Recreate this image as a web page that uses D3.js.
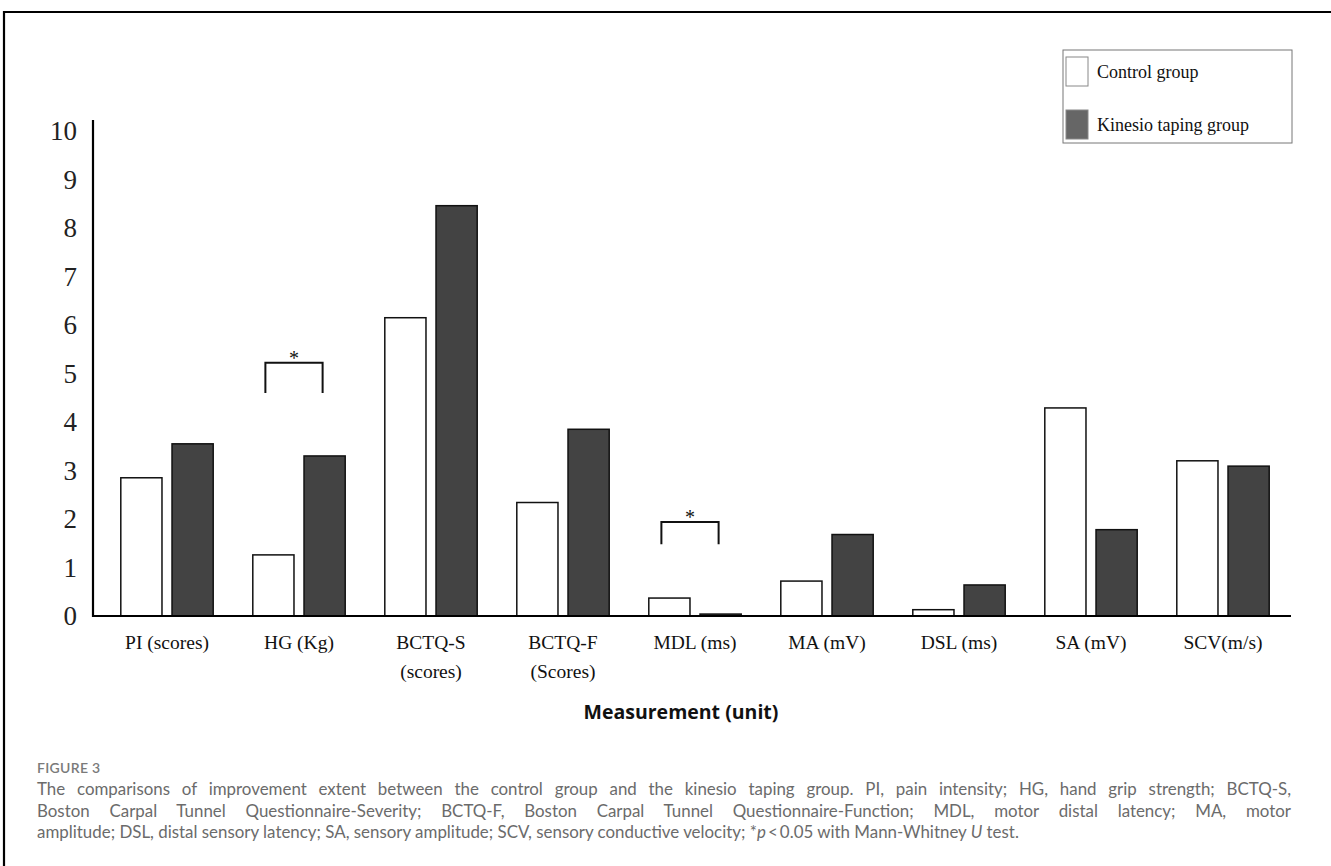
<!DOCTYPE html>
<html>
<head>
<meta charset="utf-8">
<script src="https://cdn.jsdelivr.net/npm/d3@7"></script>
<style>
  html, body { margin: 0; padding: 0; background: #fff; }
  #wrap { position: relative; width: 1331px; height: 866px; overflow: hidden; }
  svg { position: absolute; left: 0; top: 0; }
  #caption { position: absolute; left: 37px; top: 759px; width: 1254px; font-family: Lato, "Open Sans", sans-serif; color: #6b6b6b; }
  #caption .fig { font-size: 14px; letter-spacing: 0.3px; color: #7a7a7a; margin-bottom: 2px; font-weight: 600; }
  #caption .ln { font-size: 16.9px; line-height: 21.5px; white-space: nowrap; }
  #caption .just { text-align: justify; text-align-last: justify; white-space: normal; }
</style>
</head>
<body>
<div id="wrap">
  <svg id="chart" width="1331" height="866"></svg>
  <div id="caption"></div>
</div>
<script>
// ---- data ----
const categories = ["PI (scores)", "HG (Kg)", "BCTQ-S (scores)", "BCTQ-F (Scores)", "MDL (ms)", "MA (mV)", "DSL (ms)", "SA (mV)", "SCV(m/s)"];
const categoryLines = [["PI (scores)"], ["HG (Kg)"], ["BCTQ-S", "(scores)"], ["BCTQ-F", "(Scores)"], ["MDL (ms)"], ["MA (mV)"], ["DSL (ms)"], ["SA (mV)"], ["SCV(m/s)"]];
const seriesNames = ["Control group", "Kinesio taping group"];
const controlValues = [2.85, 1.26, 6.15, 2.34, 0.37, 0.72, 0.13, 4.29, 3.20];
const kinesioValues = [3.55, 3.30, 8.46, 3.85, 0.04, 1.68, 0.64, 1.78, 3.09];
const yTicks = [0, 1, 2, 3, 4, 5, 6, 7, 8, 9, 10];
const sigCategories = ["HG (Kg)", "MDL (ms)"];
const sigTop = [5.22, 1.94];
const sigBottom = [4.6, 1.48];
const xTitle = "Measurement (unit)";
const figLabel = "FIGURE 3";
const captionLines = [
  "The comparisons of improvement extent between the control group and the kinesio taping group. PI, pain intensity; HG, hand grip strength; BCTQ-S,",
  "Boston Carpal Tunnel Questionnaire-Severity; BCTQ-F, Boston Carpal Tunnel Questionnaire-Function; MDL, motor distal latency; MA, motor",
  "amplitude; DSL, distal sensory latency; SA, sensory amplitude; SCV, sensory conductive velocity; *<i>p</i>\u2009<\u20090.05 with Mann-Whitney <i>U</i> test."
];

// ---- layout ----
const svg = d3.select("#chart");
const serif = "'Liberation Serif', 'Times New Roman', serif";

// outer frame (top & left rule)
svg.append("line").attr("x1", 4).attr("x2", 1331).attr("y1", 12).attr("y2", 12).attr("stroke", "#000").attr("stroke-width", 2.2);
svg.append("line").attr("x1", 4).attr("x2", 4).attr("y1", 11).attr("y2", 866).attr("stroke", "#000").attr("stroke-width", 2.2);

const y = d3.scaleLinear().domain([0, 10]).range([616, 131]);
const x0 = d3.scaleBand().domain(categories).range([101, 1289]).paddingInner(0.3).paddingOuter(0.15);
const x1 = d3.scaleBand().domain(seriesNames).range([0, x0.bandwidth()]).paddingInner(0.196);
const fills = { "Control group": "#ffffff", "Kinesio taping group": "#434343" };

const rows = categories.map((c, i) => ({ cat: c, vals: [
  { s: seriesNames[0], v: controlValues[i] },
  { s: seriesNames[1], v: kinesioValues[i] }
]}));

// bars
const g = svg.append("g");
g.selectAll("g.grp").data(rows).join("g").attr("class", "grp")
  .attr("transform", d => `translate(${x0(d.cat)},0)`)
  .selectAll("rect").data(d => d.vals).join("rect")
  .attr("x", d => x1(d.s))
  .attr("y", d => y(d.v))
  .attr("width", x1.bandwidth())
  .attr("height", d => y(0) - y(d.v))
  .attr("fill", d => fills[d.s])
  .attr("stroke", "#111")
  .attr("stroke-width", 1.5);

// axes
svg.append("line").attr("x1", 93).attr("x2", 93).attr("y1", y(10) - 11).attr("y2", y(0) + 1).attr("stroke", "#000").attr("stroke-width", 2.2);
svg.append("line").attr("x1", 92).attr("x2", 1291).attr("y1", y(0)).attr("y2", y(0)).attr("stroke", "#000").attr("stroke-width", 2.2);

const yAxis = svg.append("g").attr("transform", "translate(93,0)")
  .call(d3.axisLeft(y).tickValues(yTicks).tickSize(0).tickPadding(16).tickFormat(d3.format("d")));
yAxis.select(".domain").remove();
yAxis.selectAll("text").attr("font-family", serif).attr("font-size", 27).attr("fill", "#222");

// x labels
const xl = svg.append("g");
xl.selectAll("text").data(categories).join("text")
  .attr("x", d => x0(d) + x0.bandwidth() / 2)
  .attr("y", 649)
  .attr("text-anchor", "middle")
  .attr("font-family", serif).attr("font-size", 19.5).attr("fill", "#111")
  .each(function(d, i) {
    d3.select(this).selectAll("tspan").data(categoryLines[i]).join("tspan")
      .attr("x", x0(d) + x0.bandwidth() / 2)
      .attr("dy", (t, j) => j === 0 ? 0 : 29)
      .text(t => t);
  });

// significance brackets
sigCategories.forEach((c, i) => {
  const xl0 = x0(c) + x1(seriesNames[0]) + x1.bandwidth() / 2 - 8;
  const xr0 = x0(c) + x1(seriesNames[1]) + x1.bandwidth() / 2 - 2;
  const path = d3.path();
  path.moveTo(xl0, y(sigBottom[i]));
  path.lineTo(xl0, y(sigTop[i]));
  path.lineTo(xr0, y(sigTop[i]));
  path.lineTo(xr0, y(sigBottom[i]));
  svg.append("path").attr("d", path.toString()).attr("fill", "none").attr("stroke", "#111").attr("stroke-width", 2);
  svg.append("text").attr("x", (xl0 + xr0) / 2).attr("y", y(sigTop[i]) + 2)
    .attr("text-anchor", "middle").attr("font-family", serif).attr("font-size", 20).attr("fill", "#111").text("*");
});

// x title
svg.append("text").attr("x", 681).attr("y", 719).attr("text-anchor", "middle")
  .attr("font-family", "'Open Sans', sans-serif").attr("font-weight", 700).attr("font-size", 19.5).attr("fill", "#111")
  .text(xTitle);

// legend
const lg = svg.append("g");
lg.append("rect").attr("x", 1063).attr("y", 50).attr("width", 229).attr("height", 93)
  .attr("fill", "#fff").attr("stroke", "#777").attr("stroke-width", 1);
const legendFills = ["#ffffff", "#666666"];
seriesNames.forEach((s, i) => {
  const yy = 57 + i * 53;
  lg.append("rect").attr("x", 1066).attr("y", yy).attr("width", 22).attr("height", 29)
    .attr("fill", legendFills[i]).attr("stroke", "#888").attr("stroke-width", 1);
  lg.append("text").attr("x", 1097).attr("y", yy + 21).attr("font-family", serif).attr("font-size", 18).attr("fill", "#111").text(s);
});

// caption
const cap = d3.select("#caption");
cap.append("div").attr("class", "fig").text(figLabel);
captionLines.forEach((t, i) => {
  cap.append("div").attr("class", "ln" + (i < 2 ? " just" : "")).html(t);
});
</script>
</body>
</html>
